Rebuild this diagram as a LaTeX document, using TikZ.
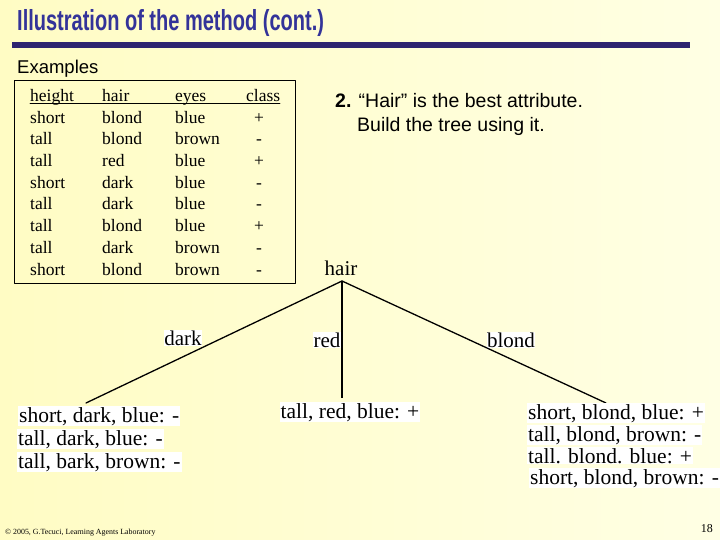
\documentclass[tikz,border=0pt]{standalone}
\usepackage{fontspec}
\setmainfont{Liberation Serif}
\setsansfont{Liberation Sans}
\usetikzlibrary{positioning}
\definecolor{titleblue}{RGB}{51,51,153}
\definecolor{barblue}{RGB}{46,36,112}
\definecolor{paperleft}{RGB}{255,252,196}
\definecolor{paperright}{RGB}{255,255,228}
\tikzstyle{every node}=[inner sep=0pt]
\tikzstyle{every path}=[line cap=round,line join=round]
\tikzstyle{cell}=[anchor=base west,font=\fontsize{17.5}{20}\selectfont]
\tikzstyle{classcell}=[anchor=base,font=\fontsize{17.5}{20}\selectfont]
\tikzstyle{edgelabel}=[fill=white,anchor=base,inner sep=0.5pt,font=\fontsize{21}{24}\selectfont]
\tikzstyle{leaf}=[fill=white,anchor=base west,inner sep=1pt,font=\fontsize{21.5}{24}\selectfont]
\tikzstyle{branch}=[line width=1.3pt]
\newcommand{\slidehead}[1]{\scalebox{0.69}[1]{\fontsize{29}{32}\sffamily\bfseries #1}}

\begin{document}
\begin{tikzpicture}[x=1pt,y=-1pt]
	\shade[left color=paperleft,right color=paperright] (0,0) rectangle (720,540);
	\useasboundingbox (0,0) rectangle (720,540);

	% title and bar
	\node[anchor=base west,text=titleblue] (title) at (17,31) {\slidehead{Illustration of the method (cont.)}};
	\fill[barblue] (12,42) rectangle (690,48);

	% table of examples
	\node[anchor=base west,font=\fontsize{18.5}{20}\sffamily] (examples) at (17,74) {Examples};
	\draw[line width=0.8pt,line cap=butt] (14,80) rectangle (295,283);
	\node[cell] (h1) at (30,101.5) {height};
	\node[cell] (h2) at (102,101.5) {hair};
	\node[cell] (h3) at (175,101.5) {eyes};
	\node[cell] (h4) at (246,101.5) {class};
	\draw[line width=0.6pt] (30,103.5) -- (280,103.5);
	\foreach \hg/\hr/\ey/\cl [count=\i] in {short/blond/blue/+,tall/blond/brown/-,tall/red/blue/+,short/dark/blue/-,tall/dark/blue/-,tall/blond/blue/+,tall/dark/brown/-,short/blond/brown/-}{
		\node[cell] (r\i a) at (30,101.5+21.7*\i) {\hg};
		\node[cell] (r\i b) at (102,101.5+21.7*\i) {\hr};
		\node[cell] (r\i c) at (175,101.5+21.7*\i) {\ey};
		\node[classcell] (r\i d) at (259,101.5+21.7*\i) {\cl};
	}

	% step 2
	\node[anchor=base west,font=\fontsize{19.5}{22}\sffamily] (step2) at (335,108) {\textbf{2.} “Hair” is the best attribute.};
	\node[anchor=base west,font=\fontsize{19.5}{22}\sffamily] (step2b) at (357,132) {Build the tree using it.};

	% tree
	\node[anchor=base,font=\fontsize{21}{24}\selectfont] (hair) at (341,275) {hair};
	\coordinate (root) at (342,281);
	\coordinate (darkend) at (86,403);
	\coordinate (redend) at (342,398);
	\coordinate (blondend) at (606,403);

	\node[edgelabel] (dark) at (183,345) {dark};
	\node[edgelabel] (red) at (327,347) {red};
	\node[edgelabel] (blond) at (511,347) {blond};

	\draw[branch] (root) -- (darkend);
	\draw[line width=2.6pt,line cap=butt] (root) -- (redend);
	\draw[branch] (root) -- (blondend);

	\node[leaf] (l1) at (18,422) {short, dark, blue: -};
	\node[leaf] (l2) at (17,445) {tall, dark, blue: -};
	\node[leaf] (l3) at (17,468) {tall, bark, brown: -};

	\node[leaf,anchor=base] (m1) at (350,418) {tall, red, blue: +};

	\node[leaf] (b1) at (527,419) {short, blond, blue: +};
	\node[leaf] (b2) at (527,441) {tall, blond, brown: -};
	\node[leaf] (b3) at (527,463) {tall. blond. blue: +};
	\node[leaf] (b4) at (529,484) {short, blond, brown: -};

	% footer
	\node[anchor=base west,font=\fontsize{7.9}{8}\selectfont] (copy) at (5,534) {© 2005, G.Tecuci, Learning Agents Laboratory};
	\node[anchor=base east,font=\fontsize{12}{14}\selectfont] (page) at (713,532) {18};
\end{tikzpicture}
\end{document}
